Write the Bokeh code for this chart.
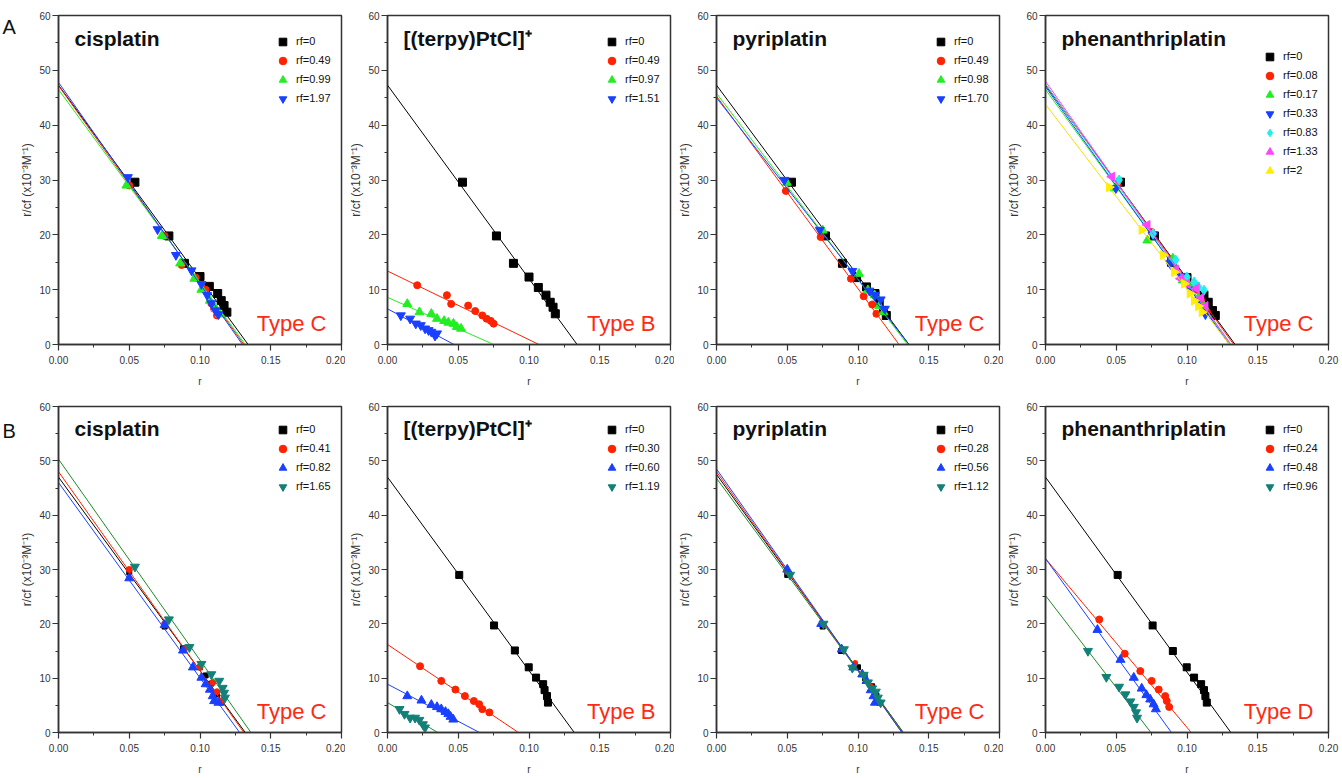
import math
from bokeh.plotting import figure
from bokeh.models import (Range1d, FixedTicker, PrintfTickFormatter, Label,
                          Legend, LegendItem)
from bokeh.layouts import row, column
from bokeh.embed import file_html
from bokeh.resources import INLINE

# ---------------- data ----------------
x_ticks = [0.0, 0.05, 0.10, 0.15, 0.20]
x_minor = [0.025, 0.075, 0.125, 0.175]
y_ticks = [0, 10, 20, 30, 40, 50, 60]
y_minor = [5, 15, 25, 35, 45, 55]

row_letters = ["A", "B"]
panel_titles = ["cisplatin", "[(terpy)PtCl]\u207a", "pyriplatin", "phenanthriplatin"]
top_types = ["Type C", "Type B", "Type C", "Type C"]
bottom_types = ["Type C", "Type B", "Type C", "Type D"]

# Panel A1: cisplatin
a1_labels = ["rf=0", "rf=0.49", "rf=0.99", "rf=1.97"]
a1_x = [[0.054, 0.078, 0.089, 0.100, 0.1066, 0.1125, 0.115, 0.117, 0.119],
        [0.050, 0.075, 0.087, 0.097, 0.104, 0.108, 0.110, 0.112],
        [0.048, 0.073, 0.086, 0.096, 0.101, 0.107, 0.111, 0.114],
        [0.049, 0.070, 0.083, 0.094, 0.101, 0.105, 0.108, 0.111, 0.113]]
a1_y = [[29.6, 19.8, 14.8, 12.4, 10.6, 9.3, 8.0, 7.1, 5.9],
        [29.0, 19.8, 14.5, 12.2, 10.0, 7.5, 6.5, 5.3],
        [29.0, 19.8, 14.8, 12.0, 10.0, 8.0, 6.5, 5.5],
        [30.5, 21.0, 16.3, 13.5, 11.0, 9.0, 7.5, 6.2, 5.5]]
a1_y0 = [47.3, 47.2, 46.5, 47.8]
a1_xint = [0.134, 0.131, 0.132, 0.130]

# Panel A2: [(terpy)PtCl]+
a2_labels = ["rf=0", "rf=0.49", "rf=0.97", "rf=1.51"]
a2_x = [[0.053, 0.077, 0.089, 0.100, 0.1066, 0.112, 0.115, 0.117, 0.1186],
        [0.021, 0.042, 0.045, 0.057, 0.062, 0.067, 0.070, 0.073, 0.075],
        [0.014, 0.0226, 0.031, 0.035, 0.040, 0.043, 0.0466, 0.049, 0.052],
        [0.0094, 0.016, 0.020, 0.0235, 0.0266, 0.029, 0.031, 0.0336, 0.035]]
a2_y = [[29.6, 19.8, 14.8, 12.3, 10.4, 9.0, 7.7, 6.8, 5.6],
        [10.8, 9.0, 7.4, 7.1, 6.1, 5.3, 4.7, 4.3, 3.8],
        [7.4, 5.9, 5.6, 4.7, 4.3, 4.0, 3.8, 3.2, 2.9],
        [5.3, 4.7, 3.8, 3.5, 2.9, 2.6, 2.3, 1.6, 2.0]]
a2_y0 = [47.3, 13.4, 8.6, 6.5]
a2_xint = [0.134, 0.107, 0.075, 0.047]

# Panel A3: pyriplatin
a3_labels = ["rf=0", "rf=0.49", "rf=0.98", "rf=1.70"]
a3_x = [[0.053, 0.077, 0.089, 0.099, 0.106, 0.112, 0.115, 0.118, 0.120],
        [0.049, 0.0736, 0.095, 0.104, 0.110, 0.113],
        [0.0497, 0.075, 0.1007, 0.107, 0.1117, 0.115, 0.118],
        [0.048, 0.073, 0.096, 0.108, 0.112, 0.116, 0.119]]
a3_y = [[29.6, 19.8, 14.8, 12.2, 10.5, 9.3, 7.7, 6.2, 5.3],
        [28.0, 19.6, 12.0, 8.8, 7.3, 5.6],
        [29.5, 20.8, 12.9, 9.9, 9.0, 7.0, 5.9],
        [30.0, 20.9, 13.4, 9.8, 9.0, 8.2, 6.5]]
a3_y0 = [47.3, 45.3, 45.8, 45.0]
a3_xint = [0.136, 0.129, 0.135, 0.136]

# Panel A4: phenanthriplatin
a4_labels = ["rf=0", "rf=0.08", "rf=0.17", "rf=0.33", "rf=0.83", "rf=1.33", "rf=2"]
a4_x = [[0.053, 0.077, 0.089, 0.100, 0.106, 0.112, 0.115, 0.118, 0.120],
        [0.051, 0.075, 0.089, 0.099, 0.105, 0.110, 0.114],
        [0.049, 0.072, 0.090, 0.097, 0.103, 0.108, 0.112],
        [0.0497, 0.076, 0.088, 0.096, 0.103, 0.108, 0.113],
        [0.052, 0.076, 0.092, 0.100, 0.105, 0.108, 0.112],
        [0.047, 0.072, 0.092, 0.0955, 0.100, 0.1066, 0.110, 0.113],
        [0.045, 0.068, 0.083, 0.091, 0.098, 0.102, 0.105, 0.108, 0.1105]]
a4_y = [[29.6, 19.8, 15.0, 12.2, 10.5, 9.0, 7.7, 6.2, 5.3],
        [29.0, 20.5, 15.5, 12.0, 10.0, 8.0, 6.0],
        [28.5, 19.0, 15.7, 11.7, 10.5, 8.5, 7.0],
        [28.5, 20.0, 14.8, 12.5, 10.0, 8.0, 5.5],
        [30.0, 20.2, 15.4, 12.3, 11.4, 10.5, 9.9],
        [30.6, 21.8, 13.7, 12.0, 11.1, 10.2, 8.5, 7.0],
        [28.7, 20.9, 16.3, 13.2, 11.1, 9.3, 8.0, 7.0, 5.9]]
a4_y0 = [47.3, 47.5, 46.5, 47.0, 47.5, 48.0, 43.8]
a4_xint = [0.134, 0.133, 0.131, 0.130, 0.131, 0.131, 0.130]

# Panel B1: cisplatin
b1_labels = ["rf=0", "rf=0.41", "rf=0.82", "rf=1.65"]
b1_x = [[0.050, 0.075, 0.088, 0.100, 0.104, 0.108, 0.112, 0.115],
        [0.050, 0.075, 0.089, 0.100, 0.109, 0.112, 0.115],
        [0.050, 0.075, 0.088, 0.095, 0.101, 0.104, 0.107, 0.109, 0.110, 0.113],
        [0.054, 0.078, 0.0925, 0.101, 0.108, 0.1136, 0.116, 0.117, 0.1176]]
b1_y = [[29.5, 19.5, 15.5, 12.0, 10.5, 9.0, 7.0, 5.5],
        [30.0, 20.0, 15.4, 12.0, 9.2, 7.5, 5.8],
        [28.4, 19.8, 15.1, 12.0, 10.1, 8.9, 7.9, 6.7, 5.8, 5.5],
        [30.5, 20.8, 15.7, 12.6, 10.7, 9.5, 8.2, 7.3, 6.4]]
b1_y0 = [47.0, 48.0, 46.0, 50.3]
b1_xint = [0.132, 0.131, 0.128, 0.136]

# Panel B2: [(terpy)PtCl]+
b2_labels = ["rf=0", "rf=0.30", "rf=0.60", "rf=1.19"]
b2_x = [[0.0507, 0.0753, 0.090, 0.0998, 0.105, 0.110, 0.111, 0.1127, 0.1134],
        [0.023, 0.038, 0.048, 0.0547, 0.061, 0.0648, 0.067, 0.072],
        [0.014, 0.024, 0.031, 0.035, 0.038, 0.041, 0.043, 0.0446, 0.0465],
        [0.0085, 0.012, 0.016, 0.0195, 0.0225, 0.025, 0.0265]]
b2_y = [[29.0, 19.7, 15.1, 12.0, 10.1, 8.9, 7.8, 6.7, 5.5],
        [12.2, 9.5, 7.9, 6.7, 5.8, 5.2, 4.3, 3.7],
        [6.7, 5.9, 5.1, 4.7, 4.3, 3.8, 3.4, 2.9, 2.4],
        [4.3, 3.4, 2.7, 2.7, 2.3, 1.5, 0.9]]
b2_y0 = [47.0, 16.2, 8.9, 5.5]
b2_xint = [0.132, 0.0925, 0.065, 0.0355]

# Panel B3: pyriplatin
b3_labels = ["rf=0", "rf=0.28", "rf=0.56", "rf=1.12"]
b3_x = [[0.050, 0.075, 0.088, 0.100, 0.105, 0.110, 0.113, 0.115],
        [0.050, 0.075, 0.089, 0.098, 0.105, 0.109, 0.112, 0.114],
        [0.050, 0.074, 0.0885, 0.0967, 0.103, 0.106, 0.109, 0.111, 0.112],
        [0.052, 0.0756, 0.090, 0.096, 0.104, 0.107, 0.110, 0.1126, 0.114, 0.116]]
b3_y = [[29.0, 19.5, 15.0, 12.0, 10.0, 8.5, 6.8, 5.5],
        [29.5, 20.0, 15.3, 12.8, 10.5, 8.5, 7.0, 5.8],
        [30.0, 20.0, 15.3, 12.0, 10.7, 9.5, 7.8, 6.7, 5.5],
        [29.0, 20.0, 15.3, 11.9, 10.6, 9.2, 8.1, 7.5, 6.4, 5.5]]
b3_y0 = [47.5, 48.0, 48.5, 46.8]
b3_xint = [0.132, 0.131, 0.131, 0.132]

# Panel B4: phenanthriplatin
b4_labels = ["rf=0", "rf=0.24", "rf=0.48", "rf=0.96"]
b4_x = [[0.051, 0.0757, 0.090, 0.0998, 0.105, 0.110, 0.112, 0.113, 0.114],
        [0.038, 0.056, 0.067, 0.075, 0.080, 0.0846, 0.0857, 0.0874],
        [0.0367, 0.053, 0.0624, 0.068, 0.0713, 0.074, 0.0764, 0.078],
        [0.030, 0.043, 0.052, 0.0565, 0.060, 0.0624, 0.064, 0.0647]]
b4_y = [[29.0, 19.7, 15.0, 12.0, 10.1, 8.9, 7.8, 6.7, 5.5],
        [20.8, 14.5, 11.3, 9.5, 7.9, 6.7, 5.8, 4.7],
        [18.9, 13.4, 10.1, 8.1, 6.9, 6.1, 5.2, 4.3],
        [15.0, 10.2, 8.4, 7.0, 5.7, 4.7, 3.7, 2.7]]
b4_y0 = [47.0, 32.0, 32.0, 25.2]
b4_xint = [0.131, 0.103, 0.089, 0.0745]

# ---------------- styles ----------------
FONT = "Liberation Sans"
AXIS_COL = "#333333"
RED_TXT = "#ff2a14"

top_styles = [  # (marker, angle, fill colour, line colour, size)
    ("square", 0, "#000000", "#000000", 8),
    ("circle", 0, "#ff2200", "#ff2200", 7),
    ("triangle", 0, "#22ee22", "#22ee22", 9),
    ("inverted_triangle", 0, "#1a40ff", "#1a40ff", 9),
    ("diamond", 0, "#22eeee", "#22eeee", 10),
    ("triangle", math.pi / 2, "#ff44ff", "#ff44ff", 9),
    ("triangle", -math.pi / 2, "#ffee00", "#f5e000", 9),
]
bottom_styles = [
    ("square", 0, "#000000", "#000000", 7),
    ("circle", 0, "#ff2200", "#ff2200", 7),
    ("triangle", 0, "#1a40ff", "#1a40ff", 9),
    ("inverted_triangle", 0, "#138078", "#208a28", 9),
]

FRAME_W = 283
LETTER_W = 16
Y_LABEL = "r/cf (x10\u207b\u00b3M\u207b\u00b9)"


def make_letter(text, H, y_from_top):
    p = figure(frame_width=LETTER_W, frame_height=H, title=None,
               x_range=Range1d(0, LETTER_W), y_range=Range1d(0, H),
               output_backend="svg", toolbar_location=None,
               x_axis_location=None, y_axis_location=None,
               min_border=0, min_border_left=0, min_border_right=0,
               min_border_top=0, min_border_bottom=0)
    p.outline_line_color = None
    p.xgrid.visible = False
    p.ygrid.visible = False
    p.background_fill_color = "white"
    p.border_fill_color = "white"
    p.add_layout(Label(x=2, y=H - y_from_top, x_units="data", y_units="data",
                       text=text, text_font=FONT, text_font_size="20px",
                       text_color="#111111", text_baseline="middle",
                       text_align="left"))
    return p


def make_panel(xs, ys, y0s, xints, labels, styles, title, type_txt,
               bl, br, bt, bb, frame_h, legend_top=11.5, small=None):
    W = bl + FRAME_W + br
    H = bt + frame_h + bb
    p = figure(width=W, height=H, x_range=Range1d(0, 0.2), y_range=Range1d(0, 60),
               output_backend="svg", toolbar_location=None,
               min_border_left=bl, min_border_right=br,
               min_border_top=bt, min_border_bottom=bb)
    p.xgrid.visible = False
    p.ygrid.visible = False
    p.outline_line_color = AXIS_COL
    p.outline_line_width = 1.5
    p.background_fill_color = "white"
    p.border_fill_color = "white"

    xa = p.xaxis[0]
    xa.ticker = FixedTicker(ticks=x_ticks, minor_ticks=x_minor)
    xa.formatter = PrintfTickFormatter(format="%.2f")
    xa.axis_label = "r"
    ya = p.yaxis[0]
    ya.ticker = FixedTicker(ticks=y_ticks, minor_ticks=y_minor)
    ya.formatter = PrintfTickFormatter(format="%d")
    ya.axis_label = Y_LABEL
    for ax in (xa, ya):
        ax.axis_line_color = AXIS_COL
        ax.axis_line_width = 1.5
        ax.major_tick_line_color = AXIS_COL
        ax.minor_tick_line_color = AXIS_COL
        ax.major_tick_line_width = 1.2
        ax.minor_tick_line_width = 1.0
        ax.major_tick_in = 0
        ax.minor_tick_in = 0
        ax.major_tick_out = 6
        ax.minor_tick_out = 3
        ax.major_label_text_font = FONT
        ax.major_label_text_font_size = "10px"
        ax.major_label_text_color = "#333333"
        ax.axis_label_text_font = FONT
        ax.axis_label_text_font_style = "normal"
        ax.axis_label_text_color = "#333333"
    xa.major_label_standoff = 5
    xa.axis_label_standoff = 9
    xa.axis_label_text_font_size = "10px"
    ya.major_label_standoff = 2
    ya.axis_label_standoff = 2
    ya.axis_label_text_font_size = "12px"

    items = []
    for i in range(len(xs)):
        mk, ang, fc, lc, sz = styles[i]
        if small is not None and i in small:
            sz = small[i]
        p.line([0, xints[i]], [y0s[i], 0], line_color=lc, line_width=1)
        r = p.scatter(xs[i], ys[i], marker=mk, angle=ang, size=sz,
                      fill_color=fc, line_color=fc, line_width=1)
        items.append(LegendItem(label=labels[i], renderers=[r]))

    n = len(items)
    pad = 5
    item_h = 19
    leg_h = 2 * pad + n * item_h
    leg = Legend(items=items, location=(210, frame_h - legend_top - leg_h),
                 glyph_width=19, glyph_height=item_h, label_height=item_h,
                 spacing=0, padding=pad, margin=0, label_standoff=4,
                 background_fill_alpha=0, border_line_alpha=0,
                 label_text_font=FONT, label_text_font_size="11px",
                 label_text_color="#111111")
    p.add_layout(leg)

    p.add_layout(Label(x=16, y=frame_h - 23, x_units="screen", y_units="screen",
                       text=title, text_font=FONT, text_font_size="21px",
                       text_font_style="bold", text_color="#111111",
                       text_baseline="middle", text_align="left"))
    p.add_layout(Label(x=FRAME_W - 15, y=21, x_units="screen", y_units="screen",
                       text=type_txt, text_font=FONT, text_font_size="22px",
                       text_color=RED_TXT, text_baseline="middle",
                       text_align="right"))
    return p


top_data = [(a1_x, a1_y, a1_y0, a1_xint, a1_labels),
            (a2_x, a2_y, a2_y0, a2_xint, a2_labels),
            (a3_x, a3_y, a3_y0, a3_xint, a3_labels),
            (a4_x, a4_y, a4_y0, a4_xint, a4_labels)]
bottom_data = [(b1_x, b1_y, b1_y0, b1_xint, b1_labels),
               (b2_x, b2_y, b2_y0, b2_xint, b2_labels),
               (b3_x, b3_y, b3_y0, b3_xint, b3_labels),
               (b4_x, b4_y, b4_y0, b4_xint, b4_labels)]

borders_lr = [(58 - LETTER_W, 4), (42, 4), (42, 4), (42, 12)]

TOP_BT, TOP_FH, TOP_BB = 15, 329, 50
BOT_BT, BOT_FH, BOT_BB = 12, 327, 44

top_figs = [make_letter(row_letters[0], TOP_BT + TOP_FH + TOP_BB, 11)]
for k, (xs, ys, y0s, xi, lb) in enumerate(top_data):
    bl, br = borders_lr[k]
    top_figs.append(make_panel(xs, ys, y0s, xi, lb, top_styles, panel_titles[k],
                               top_types[k], bl, br, TOP_BT, TOP_BB, TOP_FH,
                               legend_top=26.5 if k == 3 else 11.5))

bottom_small = [{0: 5, 1: 6}, None, {0: 5, 1: 5}, None]
bottom_figs = [make_letter(row_letters[1], BOT_BT + BOT_FH + BOT_BB, 24)]
for k, (xs, ys, y0s, xi, lb) in enumerate(bottom_data):
    bl, br = borders_lr[k]
    bottom_figs.append(make_panel(xs, ys, y0s, xi, lb, bottom_styles, panel_titles[k],
                                  bottom_types[k], bl, br, BOT_BT, BOT_BB, BOT_FH,
                                  legend_top=9.5, small=bottom_small[k]))

layout = column(row(*top_figs), row(*bottom_figs))
open("out.html", "w").write(file_html(layout, INLINE))
